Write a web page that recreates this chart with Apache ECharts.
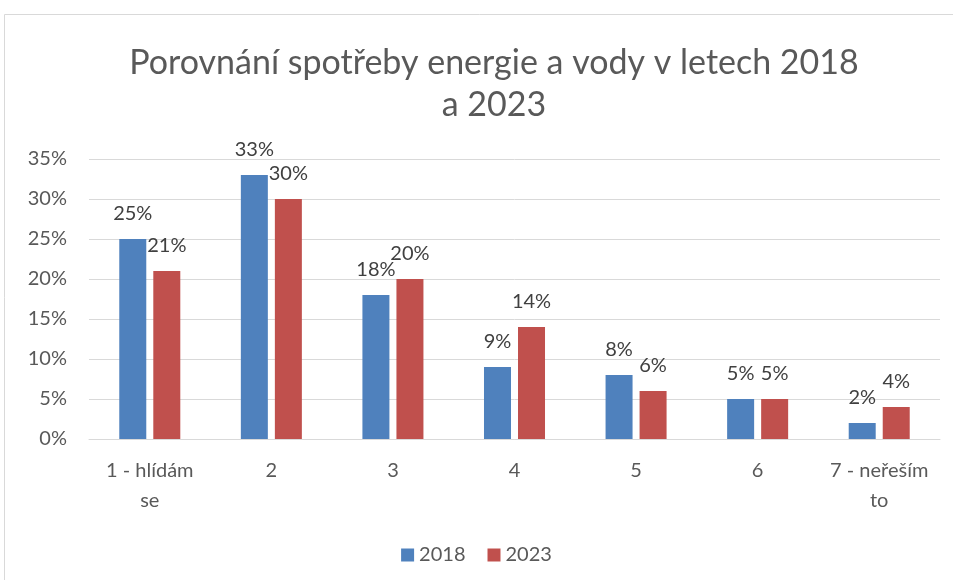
<!DOCTYPE html>
<html>
<head>
<meta charset="utf-8">
<script src="https://cdn.jsdelivr.net/npm/echarts@6/dist/echarts.min.js"></script>
<style>
  html, body { margin: 0; padding: 0; background: #fff; }
  #chart { width: 953px; height: 580px; }
</style>
</head>
<body>
<div id="chart"></div>
<script>
// data
const categories = ['1 - hlídám\nse', '2', '3', '4', '5', '6', '7 - neřeším\nto'];
const values2018 = [25, 33, 18, 9, 8, 5, 2];
const values2023 = [21, 30, 20, 14, 6, 5, 4];
const yTicks = [0, 5, 10, 15, 20, 25, 30, 35];

const chart = echarts.init(document.getElementById('chart'));
const font = 'Lato, "Open Sans", sans-serif';

const option = {
  animation: false,
  textStyle: { fontFamily: font },
  graphic: [{
    type: 'rect',
    shape: { x: 4.5, y: 14.5, width: 1000, height: 700 },
    style: { fill: 'none', stroke: '#d9d9d9', lineWidth: 1 }
  }],
  title: {
    text: 'Porovnání spotřeby energie a vody v letech 2018\na 2023',
    left: 489,
    textAlign: 'center',
    top: 37,
    textStyle: { fontFamily: font, fontSize: 34, fontWeight: 'normal', color: '#595959', lineHeight: 42 }
  },
  legend: {
    data: ['2018', '2023'],
    left: 'center',
    top: 540,
    itemWidth: 13,
    itemHeight: 13,
    itemGap: 22,
    icon: 'rect',
    textStyle: { fontFamily: font, fontSize: 20, color: '#595959' }
  },
  grid: { left: 89, right: 13, top: 159, bottom: 141 },
  xAxis: {
    type: 'category',
    data: categories,
    axisLine: { lineStyle: { color: '#d9d9d9' } },
    axisTick: { show: false },
    axisLabel: { fontFamily: font, fontSize: 20, color: '#595959', margin: 17, lineHeight: 30, interval: 0 }
  },
  yAxis: {
    type: 'value',
    min: yTicks[0],
    max: yTicks[yTicks.length - 1],
    interval: 5,
    axisLine: { show: false },
    axisTick: { show: false },
    splitLine: { lineStyle: { color: '#d9d9d9' } },
    axisLabel: { fontFamily: font, fontSize: 20, color: '#595959', margin: 22, formatter: '{value}%' }
  },
  series: [
    {
      name: '2018',
      type: 'bar',
      data: values2018,
      barWidth: 27,
      barGap: '26%',
      itemStyle: { color: '#4f81bd' },
      label: { show: true, position: 'top', distance: 15, formatter: '{c}%', fontFamily: font, fontSize: 20, color: '#404040' }
    },
    {
      name: '2023',
      type: 'bar',
      data: values2023,
      barWidth: 27,
      itemStyle: { color: '#c0504d' },
      label: { show: true, position: 'top', distance: 15, formatter: '{c}%', fontFamily: font, fontSize: 20, color: '#404040' }
    }
  ]
};

chart.setOption(option);
</script>
</body>
</html>
